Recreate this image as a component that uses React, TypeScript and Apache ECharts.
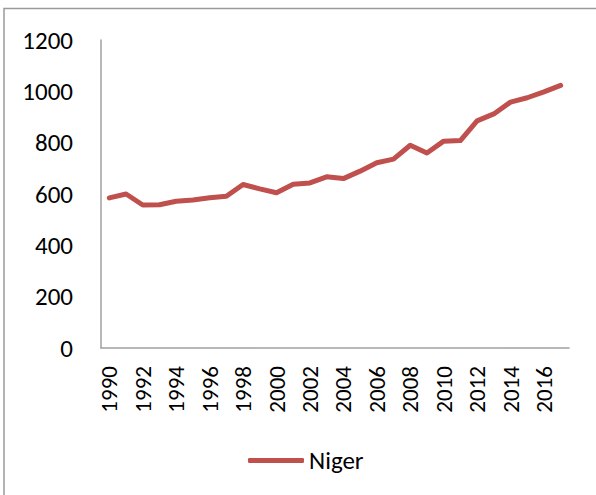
import React, { useEffect, useRef } from "react";
import * as echarts from "echarts";

const years: string[] = [
  "1990", "1991", "1992", "1993", "1994", "1995", "1996", "1997", "1998", "1999",
  "2000", "2001", "2002", "2003", "2004", "2005", "2006", "2007", "2008", "2009",
  "2010", "2011", "2012", "2013", "2014", "2015", "2016", "2017",
];
const nigerValues: number[] = [
  585, 600, 557, 558, 572, 577, 585, 591, 637, 620,
  605, 638, 643, 667, 660, 689, 722, 736, 790, 760,
  806, 808, 885, 912, 958, 975, 998, 1023,
];
const seriesName = "Niger";
const yTicks = { min: 0, max: 1200, interval: 200 };

const FONT = "Carlito, Calibri, 'Open Sans', 'Liberation Sans', sans-serif";

export default function App() {
  const ref = useRef<HTMLDivElement>(null);
  useEffect(() => {
    if (!ref.current) return;
    const chart = echarts.init(ref.current, undefined, { renderer: "svg" });
    chart.setOption({
      animation: false,
      backgroundColor: "#ffffff",
      graphic: [
        {
          type: "rect",
          shape: { x: 4, y: 8.5, width: 700, height: 600 },
          style: { fill: "none", stroke: "#9a9a9a", lineWidth: 1.5 },
          silent: true,
        },
      ],
      grid: { left: 101, right: 27, top: 40, bottom: 147, containLabel: false },
      xAxis: {
        type: "category",
        data: years,
        boundaryGap: true,
        axisLine: { lineStyle: { color: "#a0a0a0", width: 1.5 } },
        axisTick: { show: false },
        axisLabel: {
          interval: 1,
          rotate: 90,
          margin: 18,
          color: "#000",
          fontSize: 23,
          fontFamily: FONT,
        },
        splitLine: { show: false },
      },
      yAxis: {
        type: "value",
        min: yTicks.min,
        max: yTicks.max,
        interval: yTicks.interval,
        axisLine: { show: true, lineStyle: { color: "#a0a0a0", width: 1.5 } },
        axisTick: { show: false },
        splitLine: { show: false },
        axisLabel: {
          margin: 28,
          color: "#000",
          fontSize: 25,
          fontFamily: FONT,
          formatter: (v: number) => String(v),
        },
      },
      legend: {
        data: [seriesName],
        left: 243,
        top: 443,
        icon: "roundRect",
        itemWidth: 56,
        itemHeight: 5,
        itemGap: 5,
        textStyle: { color: "#000", fontSize: 25, fontFamily: FONT },
      },
      series: [
        {
          name: seriesName,
          type: "line",
          data: nigerValues,
          showSymbol: false,
          symbol: "none",
          lineStyle: { color: "#C0504D", width: 5, cap: "round", join: "round" },
          itemStyle: { color: "#C0504D" },
        },
      ],
    });
    return () => chart.dispose();
  }, []);
  return (
    <div
      ref={ref}
      style={{ position: "absolute", left: 0, top: 0, width: 596, height: 495 }}
    />
  );
}
